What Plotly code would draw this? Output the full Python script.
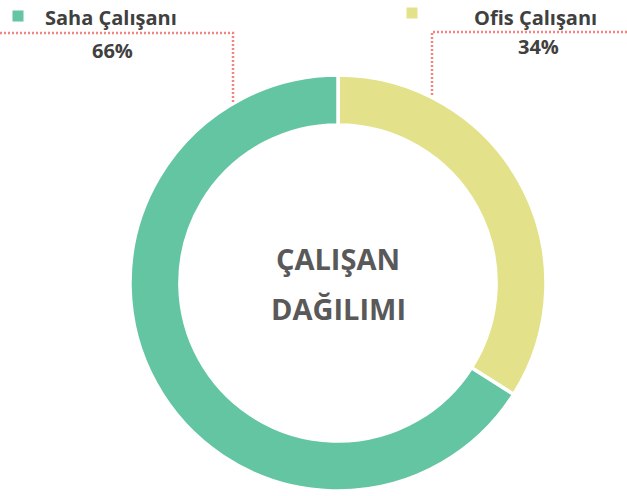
import plotly.graph_objects as go

labels = ["Ofis Çalışanı", "Saha Çalışanı"]
values = [34, 66]
colors = ["#E3E28A", "#63C5A2"]
center_title = ["ÇALIŞAN", "DAĞILIMI"]

W, H = 627, 496
cx, cy, R = 338, 283, 208

def px(x):
    return x / W

def py(y):
    return 1 - y / H

fig = go.Figure()
fig.add_trace(go.Pie(
    labels=labels, values=values, hole=0.76, sort=False, direction="clockwise",
    rotation=0, marker=dict(colors=colors, line=dict(color="white", width=3.5)),
    textinfo="none", hoverinfo="label+percent", showlegend=False,
    domain=dict(x=[px(cx - R), px(cx + R)], y=[py(cy + R), py(cy - R)]),
))

total = sum(values)
pct = [f"{round(v * 100 / total)}%" for v in values]
FONT = "Open Sans, sans-serif"
label_font = dict(family=FONT, size=20, color="#404040")

# positions: (square x, square y, label center x, label y, pct center x, pct y)
pos = {
    "Saha Çalışanı": (18, 16, 111, 18, 113, 50),
    "Ofis Çalışanı": (412, 13, 535, 17, 538, 47),
}
anns = []
shapes = []
for lab, col, p in zip(labels, colors, pct):
    sx, sy, lx, ly, ppx, ppy = pos[lab]
    shapes.append(dict(type="rect", xref="paper", yref="paper",
                       x0=px(sx - 5.5), x1=px(sx + 5.5), y0=py(sy + 5.5), y1=py(sy - 5.5),
                       fillcolor=col, line=dict(width=0)))
    anns.append(dict(text=f"<b>{lab}</b>", x=px(lx), y=py(ly), xref="paper", yref="paper",
                     showarrow=False, font=label_font, xanchor="center", yanchor="middle"))
    anns.append(dict(text=f"<b>{p}</b>", x=px(ppx), y=py(ppy), xref="paper", yref="paper",
                     showarrow=False, font=label_font, xanchor="center", yanchor="middle"))

dot = dict(color="#F28580", width=2.5, dash="2px,2px")
shapes.append(dict(type="path", xref="paper", yref="paper",
                   path=f"M {px(0)},{py(33)} L {px(233)},{py(33)} L {px(233)},{py(102)}",
                   line=dot))
shapes.append(dict(type="path", xref="paper", yref="paper",
                   path=f"M {px(627)},{py(32)} L {px(432)},{py(32)} L {px(432)},{py(96)}",
                   line=dot))

for line_text, ty in zip(center_title, [258, 308]):
    anns.append(dict(text=f"<b>{line_text}</b>", x=px(cx), y=py(ty),
                     xref="paper", yref="paper", showarrow=False, xanchor="center", yanchor="middle",
                     font=dict(family=FONT, size=29, color="#595959")))

fig.update_layout(width=W, height=H, margin=dict(l=0, r=0, t=0, b=0),
                  paper_bgcolor="white", plot_bgcolor="white",
                  annotations=anns, shapes=shapes)
fig.write_html("out.html", config={"displayModeBar": False},
               post_script="document.body.style.margin='0';document.body.style.overflow='hidden';")
